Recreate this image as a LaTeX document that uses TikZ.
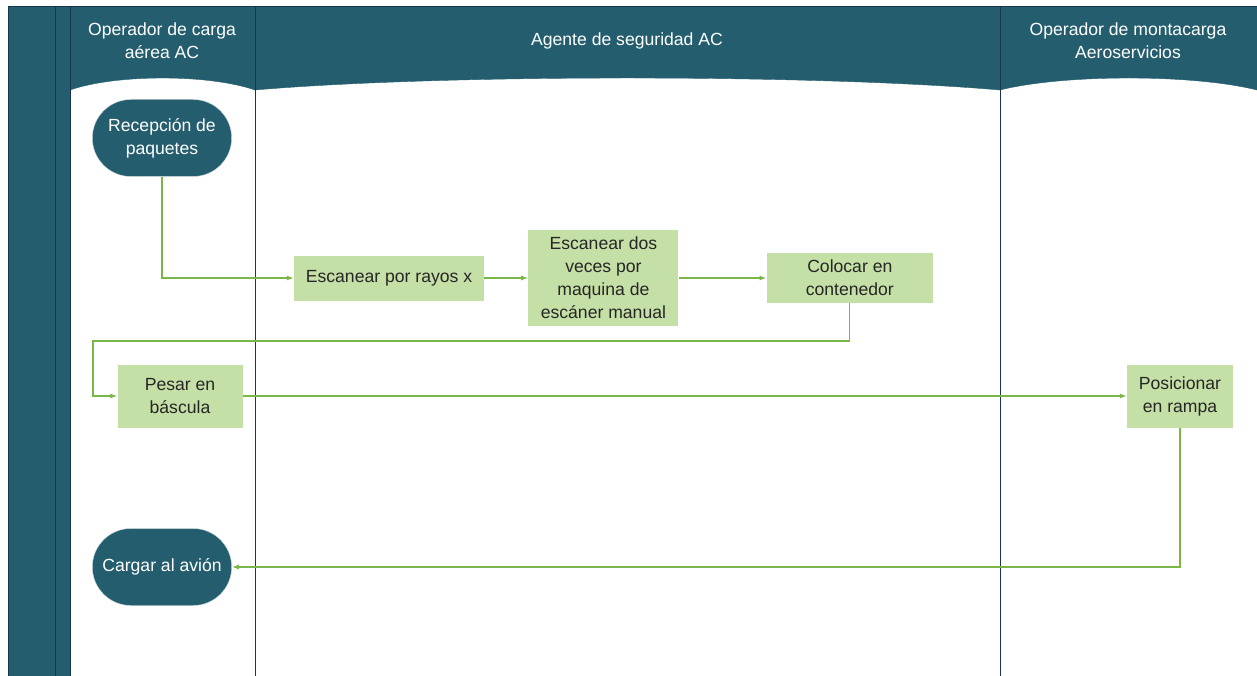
\documentclass[tikz,border=0pt]{standalone}
\usepackage{fontspec}
\setmainfont{Liberation Sans}
\usetikzlibrary{shapes.misc,positioning,arrows.meta}
\definecolor{laneteal}{RGB}{36,94,110}
\definecolor{laneline}{RGB}{24,54,80}
\definecolor{boxgreen}{RGB}{197,224,166}
\definecolor{flowgreen}{RGB}{122,182,72}

\tikzset{
  txt/.style={font=\fontsize{17.6}{23}\selectfont},
  task/.style={txt, fill=boxgreen, text=black!85, align=center, inner sep=2pt},
  term/.style={txt, rounded rectangle, fill=laneteal, draw=white!80!laneteal,
    text=white, align=center, minimum width=146pt, minimum height=77pt},
  lanehead/.style={txt, text=white, align=center},
  flow/.style={draw=flowgreen, line width=1.2pt, -{Latex[length=7pt,width=5pt]}},
}

\begin{document}
\begin{tikzpicture}[x=1pt,y=-1pt]
\useasboundingbox (0,0) rectangle (1257,676);

% side bands and lane headers
\fill[laneteal] (8,7) rectangle (70,676);
\foreach \xa/\xb in {70/255,255/1000,1000/1257}
  \filldraw[laneteal] (\xa,7) -- (\xb,7) -- (\xb,90)
    .. controls ({\xb-(\xb-\xa)/4},74) and ({\xa+(\xb-\xa)/4},74) .. (\xa,90) -- cycle;
\draw[laneline, line width=1pt] (8,7) -- (1257,7);
\foreach \x in {8,55,70,255,1000}
  \draw[laneline, line width=1pt] (\x,7) -- (\x,676);

\node[lanehead] (hcarga) at (162,41) {Operador de carga\\aérea AC};
\node[lanehead] (hseg) at (627,41) {Agente de seguridad AC};
\node[lanehead] (hmonta) at (1128,41) {Operador de montacarga\\Aeroservicios};

% steps
\node[term] (rec) at (162,138) {Recepción de\\paquetes};
\node[task, minimum width=190pt, minimum height=45pt] (ray) at (389,278) {Escanear por rayos x};
\node[task, minimum width=150pt, minimum height=95pt, right=44pt of ray] (dos) {Escanear dos\\veces por\\maquina de\\escáner manual};
\node[task, minimum width=166pt, minimum height=50pt, right=88pt of dos] (col) {Colocar en\\contenedor};
\node[task, minimum width=125pt, minimum height=63pt] (pes) at (180,396) {Pesar en\\báscula};
\node[task, minimum width=106pt, minimum height=63pt] (pos) at (1180,396) {Posicionar\\en rampa};
\node[term] (car) at (162,567) {Cargar al avión};

% flow
\coordinate (bend) at (93,341);
\draw[flow] (rec.south) |- (ray.west);
\draw[flow] (ray) -- (dos);
\draw[flow] (dos) -- (col);
\draw[flow] (col.south) |- (bend) |- (pes.west);
\draw[flow] (pes) -- (pos);
\draw[flow] (pos.south) |- (car.east);

\end{tikzpicture}
\end{document}
